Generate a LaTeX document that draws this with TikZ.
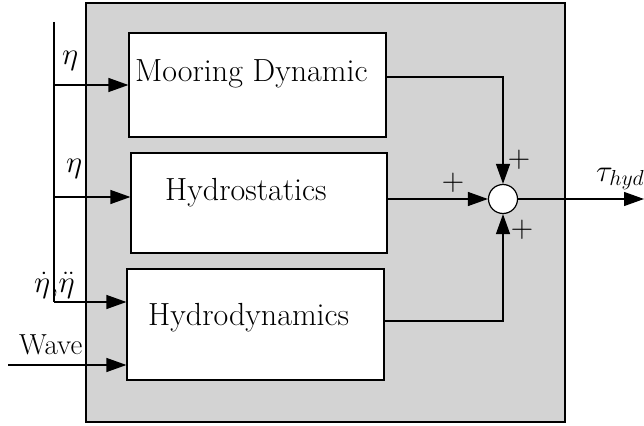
\RequirePackage{fix-cm}
\documentclass[tikz,border=0pt]{standalone}
\usetikzlibrary{arrows.meta,calc}
\definecolor{panel}{RGB}{211,211,211}
\begin{document}
\begin{tikzpicture}[x=1pt,y=-1pt,
  lw/.style={line width=1.2pt},
  blockbox/.style={draw,lw,fill=white,inner sep=0pt},
  arr/.style={lw,-{Triangle[length=20pt,width=14pt]}},
  txt/.style={inner sep=0pt,anchor=base west,font=\fontsize{32}{38}\selectfont},
  lbl/.style={inner sep=0pt,anchor=base west,font=\fontsize{31}{36}\selectfont},
]
\useasboundingbox (0,0) rectangle (644,425);
\node[draw,lw,fill=panel,inner sep=0pt,minimum width=479pt,minimum height=419pt] (panel) at (325.5,212.5) {};
\node[blockbox,minimum width=257pt,minimum height=104pt] (moor) at (257.5,85) {};
\node[blockbox,minimum width=256pt,minimum height=100pt] (hs) at (259,203) {};
\node[blockbox,minimum width=257pt,minimum height=111pt] (hd) at (255.5,324.5) {};
\node[txt] (tmoor) at (135,82) {Mooring Dynamic};
\node[txt] (ths) at (165,200) {Hydrostatics};
\node[txt] (thd) at (148,325) {Hydrodynamics};
\node[draw,lw,fill=white,circle,minimum size=29pt,inner sep=0pt] (sum) at (503,199) {};
% bus
\coordinate (btop) at (54,22);
\coordinate (b1) at (54,85);
\coordinate (b2) at (54,197);
\coordinate (b3) at (54,302);
\coordinate (wv) at (8,365);
\coordinate (out) at (644,199);
\draw[lw] (btop) -- (b3);
\draw[arr] (b1) -- (b1 -| moor.west);
\draw[arr] (b2) -- (b2 -| hs.west);
\draw[arr] (b3) -- (b3 -| hd.west);
\draw[arr] (wv) -- (wv -| hd.west);
\draw[arr] ([yshift=8pt]moor.east) -| (sum.north);
\draw[arr] (hs.east |- sum.west) -- (sum.west);
\draw[arr] ([yshift=3.5pt]hd.east) -| (sum.south);
\draw[arr] (sum.east) -- (out);
% labels
\node[lbl] (l1) at (62,65) {$\eta$};
\node[lbl] (l2) at (66,172) {$\eta$};
\node[lbl] (l3) at (34,292) {$\dot\eta{,}\ddot\eta$};
\node[lbl,font=\fontsize{29}{34}\selectfont] (lw) at (19,354) {Wave};
\node[lbl] (lt) at (596,181) {$\tau_{hyd}$};
\node[lbl,anchor=center] (p1) at (519,160) {$+$};
\node[lbl,anchor=center] (p2) at (453,183) {$+$};
\node[lbl,anchor=center] (p3) at (522,230) {$+$};
\end{tikzpicture}
\end{document}
